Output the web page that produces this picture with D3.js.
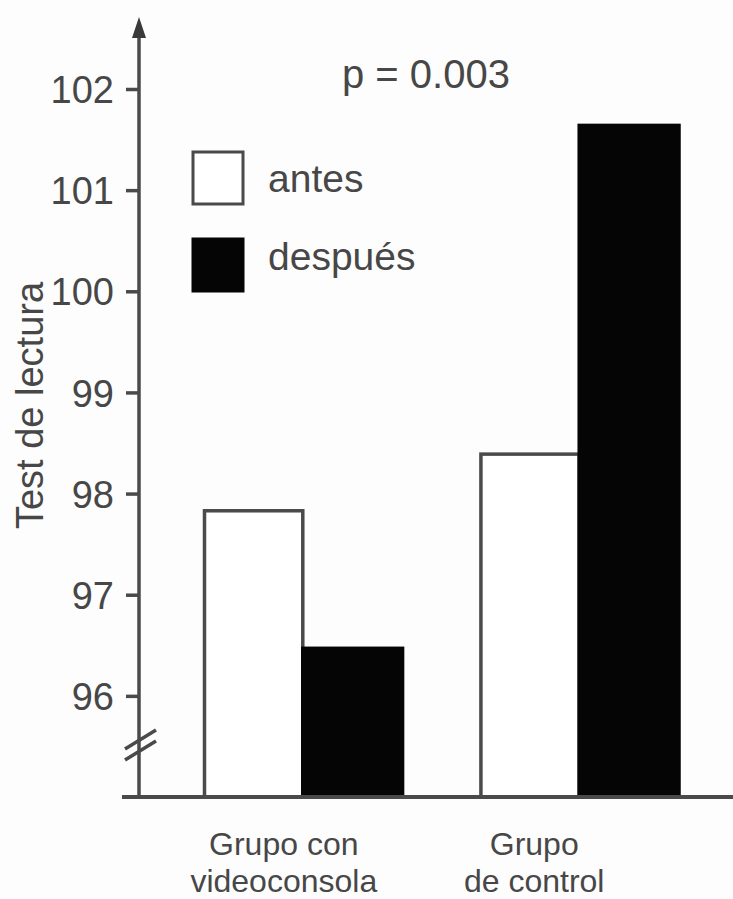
<!DOCTYPE html>
<html>
<head>
<meta charset="utf-8">
<script src="https://cdn.jsdelivr.net/npm/d3@7"></script>
<style>
  html, body { margin: 0; padding: 0; background: #fdfdfd; }
  svg { display: block; }
  text { font-family: "Liberation Sans", Arial, sans-serif; fill: #474747; }
</style>
</head>
<body>
<svg id="chart" width="733" height="899"></svg>
<script>
// ---- data ----
const groups = ["Grupo con videoconsola", "Grupo de control"];
const groupLabelLines = [["Grupo con", "videoconsola"], ["Grupo", "de control"]];
const series = ["antes", "después"];
const antes = [97.83, 98.39];
const despues = [96.47, 101.64];
const yTicks = [96, 97, 98, 99, 100, 101, 102];
const pLabel = "p = 0.003";
const yTitle = "Test de lectura";

// ---- layout ----
const W = 733, H = 899;
const axisX = 139, baseY = 797;
const svg = d3.select("#chart");
const ink = "#4a4a4a";

const y = d3.scaleLinear().domain([95, 102]).range([baseY, 89]);
const x0 = d3.scaleBand().domain(groups).range([203, 679]).paddingInner(0.278).paddingOuter(0);
const x1 = d3.scaleBand().domain(series).range([0, x0.bandwidth()]).padding(0);

const table = groups.map((g, i) => ({ group: g, values: [
  { key: "antes", value: antes[i] },
  { key: "después", value: despues[i] }
]}));

// bars
const gBars = svg.append("g");
table.forEach(d => {
  d.values.forEach(v => {
    const isAfter = v.key === "después";
    gBars.append("rect")
      .attr("x", x0(d.group) + x1(v.key) + (isAfter ? 0 : 1.5))
      .attr("y", y(v.value))
      .attr("width", x1.bandwidth() - (isAfter ? 0 : 1.5))
      .attr("height", baseY - y(v.value))
      .attr("fill", isAfter ? "#050505" : "#ffffff")
      .attr("stroke", isAfter ? "#050505" : ink)
      .attr("stroke-width", 3.5);
  });
});

// y axis
const yAxis = d3.axisLeft(y).tickValues(yTicks).tickSize(13).tickPadding(12).tickFormat(d3.format("d"));
const gy = svg.append("g").attr("transform", `translate(${axisX},0)`).call(yAxis);
gy.select(".domain").remove();
gy.selectAll(".tick line").attr("stroke", ink).attr("stroke-width", 3.5);
gy.selectAll(".tick text").style("font-size", "38px").style("fill", "#474747")
  .attr("dy", "0.36em");

// axis line with arrow
svg.append("line").attr("x1", axisX).attr("x2", axisX).attr("y1", 34).attr("y2", baseY)
  .attr("stroke", ink).attr("stroke-width", 3.5);
svg.append("path")
  .attr("d", `M${axisX},17 L${axisX - 7},38 L${axisX + 7},38 Z`)
  .attr("fill", "#3a3a3a");

// break marks
[0, 11].forEach(off => {
  svg.append("line")
    .attr("x1", axisX - 14).attr("y1", 752 + off - 3)
    .attr("x2", axisX + 17).attr("y2", 733 + off - 3)
    .attr("stroke", ink).attr("stroke-width", 3.5);
});

// x baseline
svg.append("line").attr("x1", 122).attr("x2", W).attr("y1", baseY).attr("y2", baseY)
  .attr("stroke", ink).attr("stroke-width", 4);

// x labels
const labelShift = [-19, -45];
groups.forEach((g, i) => {
  const cx = x0(g) + x0.bandwidth() / 2 + labelShift[i];
  const t = svg.append("text").attr("text-anchor", "middle").style("font-size", "32px");
  groupLabelLines[i].forEach((line, j) => {
    t.append("tspan").attr("x", cx).attr("y", 855 + j * 37).text(line);
  });
});

// y title
svg.append("text")
  .attr("transform", `translate(43,${(276 + 535) / 2}) rotate(-90)`)
  .attr("text-anchor", "middle")
  .style("font-size", "38px")
  .text(yTitle);

// p value
svg.append("text").attr("x", 342).attr("y", 88).style("font-size", "40px").text(pLabel);

// legend
const legend = svg.append("g");
series.forEach((s, i) => {
  const ly = [152, 239][i];
  legend.append("rect")
    .attr("x", 193).attr("y", ly).attr("width", 50).attr("height", 52)
    .attr("fill", i === 0 ? "#ffffff" : "#050505")
    .attr("stroke", i === 0 ? ink : "#050505").attr("stroke-width", 3);
  legend.append("text").attr("x", 268).attr("y", [192, 270][i])
    .style("font-size", "39px").text(s);
});
</script>
</body>
</html>
